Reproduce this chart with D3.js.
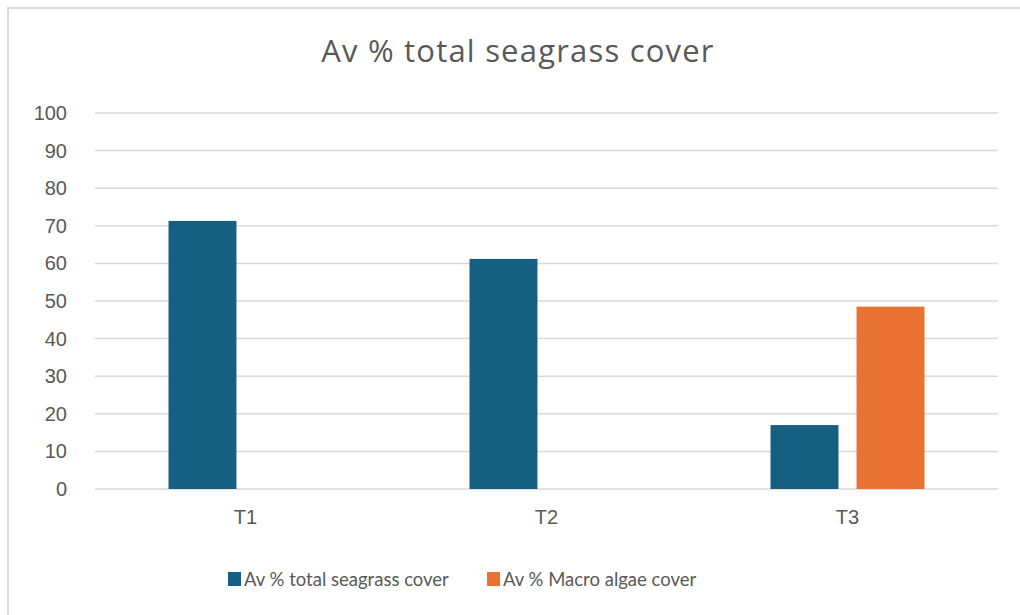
<!DOCTYPE html>
<html>
<head>
<meta charset="utf-8">
<script src="https://cdn.jsdelivr.net/npm/d3@7"></script>
<style>
  body { margin: 0; background: #fff; }
  text { fill: #595959; }
</style>
</head>
<body>
<svg id="chart" width="1020" height="615"></svg>
<script>
// data
var categories = ["T1", "T2", "T3"];
var seriesNames = ["Av % total seagrass cover", "Av % Macro algae cover"];
var seagrass = [71.3, 61.2, 17.0];
var macroAlgae = [0, 0, 48.5];
var yTicks = [0, 10, 20, 30, 40, 50, 60, 70, 80, 90, 100];
var colors = ["#156082", "#E97132"];

var svg = d3.select("#chart");

// chart frame
svg.append("rect")
    .attr("x", 8).attr("y", 8)
    .attr("width", 1030).attr("height", 630)
    .attr("fill", "#fff")
    .attr("stroke", "#d9d9d9")
    .attr("stroke-width", 2);

var PLOT_LEFT = 95, PLOT_RIGHT = 998;
var PLOT_TOP = 113, PLOT_BOTTOM = 489;

var y = d3.scaleLinear().domain([0, 100]).range([PLOT_BOTTOM, PLOT_TOP]);
var x0 = d3.scaleBand().domain(categories).range([PLOT_LEFT, PLOT_RIGHT]).padding(0);
var bw = x0.bandwidth();
var x1 = d3.scaleBand().domain(seriesNames)
    .range([bw / 2 - 77, bw / 2 + 77])
    .paddingInner(0.21);

// gridlines
svg.append("g").selectAll("line")
    .data(yTicks)
    .enter().append("line")
    .attr("x1", PLOT_LEFT).attr("x2", PLOT_RIGHT)
    .attr("y1", function(d){ return y(d); })
    .attr("y2", function(d){ return y(d); })
    .attr("stroke", "#d9d9d9")
    .attr("stroke-width", 1.5);

// y axis labels
var yAxis = d3.axisLeft(y).tickValues(yTicks).tickSize(0).tickPadding(0);
var gy = svg.append("g")
    .attr("transform", "translate(67,0)")
    .call(yAxis);
gy.select(".domain").remove();
gy.selectAll("text")
    .attr("font-family", "Liberation Sans, Arial, sans-serif")
    .attr("font-size", 20)
    .attr("fill", "#595959");

// x axis labels
var xAxis = d3.axisBottom(x0).tickSize(0).tickPadding(0);
var gx = svg.append("g")
    .attr("transform", "translate(0," + 510 + ")")
    .call(xAxis);
gx.select(".domain").remove();
gx.selectAll("text")
    .attr("font-family", "Liberation Sans, Arial, sans-serif")
    .attr("font-size", 20)
    .attr("fill", "#595959");

// bars
var rows = categories.map(function(c, i){
    return { cat: c, values: [seagrass[i], macroAlgae[i]] };
});

var groups = svg.append("g").selectAll("g")
    .data(rows)
    .enter().append("g")
    .attr("transform", function(d){ return "translate(" + x0(d.cat) + ",0)"; });

groups.selectAll("rect")
    .data(function(d){
        return d.values.map(function(v, j){ return { name: seriesNames[j], value: v, j: j }; });
    })
    .enter().append("rect")
    .filter(function(d){ return d.value > 0; })
    .attr("x", function(d){ return x1(d.name); })
    .attr("y", function(d){ return y(d.value); })
    .attr("width", x1.bandwidth())
    .attr("height", function(d){ return PLOT_BOTTOM - y(d.value); })
    .attr("fill", function(d){ return colors[d.j]; });

// title
svg.append("text")
    .attr("x", 518).attr("y", 62)
    .attr("text-anchor", "middle")
    .attr("font-family", "Open Sans, sans-serif")
    .attr("font-size", 31)
    .attr("letter-spacing", 1.2)
    .text("Av % total seagrass cover");

// legend
var legendX = [228, 487];
var legend = svg.append("g").selectAll("g")
    .data(seriesNames)
    .enter().append("g")
    .attr("transform", function(d, i){ return "translate(" + legendX[i] + ",572)"; });

legend.append("rect")
    .attr("width", 13).attr("height", 14)
    .attr("fill", function(d, i){ return colors[i]; });

legend.append("text")
    .attr("x", 16).attr("y", 14)
    .attr("font-family", "Lato, sans-serif")
    .attr("font-size", 18.5)
    .text(function(d){ return d; });
</script>
</body>
</html>
